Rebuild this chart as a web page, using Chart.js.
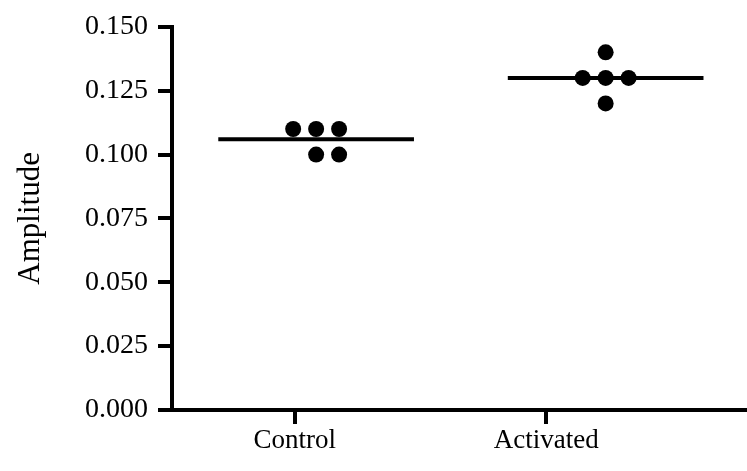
<!DOCTYPE html>
<html>
<head>
<meta charset="utf-8">
<script src="https://cdn.jsdelivr.net/npm/chart.js@4"></script>
<style>
  html, body { margin: 0; padding: 0; background: #fff; overflow: hidden; }
  #wrap { width: 754px; height: 471px; }
</style>
</head>
<body>
<div id="wrap"><canvas id="chart"></canvas></div>
<script>
// données
const categories = ['Control', 'Activated'];
const tickPositions = [1, 2];
const groupPositions = [1.085, 2.236];
const controlValues = [0.110, 0.110, 0.110, 0.100, 0.100];
const controlOffsets = [-1, 0, 1, 0, 1];
const activatedValues = [0.140, 0.130, 0.130, 0.130, 0.120];
const activatedOffsets = [0, -1, 0, 1, 0];
const means = [0.106, 0.130];
const yTicks = [0, 0.025, 0.05, 0.075, 0.1, 0.125, 0.15];

const spacing = 0.0913;   // écart entre points voisins
const halfLine = 0.389;   // demi-largeur du trait de moyenne

function toPoints(values, offsets, center) {
    return values.map((v, i) => ({ x: center + offsets[i] * spacing, y: v }));
}
function meanLine(m, center) {
    return [{ x: center - halfLine, y: m }, { x: center + halfLine, y: m }];
}

const serif = 'Liberation Serif, Times New Roman, serif';

new Chart(document.getElementById('chart'), {
    type: 'scatter',
    data: {
        datasets: [
            { type: 'line', data: meanLine(means[0], groupPositions[0]), borderColor: '#000', borderWidth: 4, pointRadius: 0 },
            { type: 'line', data: meanLine(means[1], groupPositions[1]), borderColor: '#000', borderWidth: 4, pointRadius: 0 },
            { data: toPoints(controlValues, controlOffsets, groupPositions[0]), backgroundColor: '#000', borderWidth: 0, pointRadius: 8 },
            { data: toPoints(activatedValues, activatedOffsets, groupPositions[1]), backgroundColor: '#000', borderWidth: 0, pointRadius: 8 }
        ]
    },
    options: {
        responsive: true,
        maintainAspectRatio: false,
        animation: false,
        layout: { padding: { top: 25, right: 0, left: 0, bottom: 0 } },
        plugins: { legend: { display: false }, tooltip: { enabled: false } },
        scales: {
            x: {
                type: 'linear',
                min: 0.512,
                max: 2.794,
                afterBuildTicks: s => { s.ticks = tickPositions.map(v => ({ value: v })); },
                afterFit: s => { s.height = 61; },
                border: { display: true, color: '#000', width: 4 },
                grid: { drawOnChartArea: false, drawTicks: true, tickLength: 14, lineWidth: 4, color: '#000' },
                ticks: {
                    color: '#000',
                    padding: 1,
                    font: { family: serif, size: 27 },
                    callback: v => categories[tickPositions.indexOf(v)]
                }
            },
            y: {
                min: 0,
                max: 0.15,
                afterBuildTicks: s => { s.ticks = yTicks.map(v => ({ value: v })); },
                afterFit: s => { s.width = 172; },
                border: { display: true, color: '#000', width: 4 },
                grid: { drawOnChartArea: false, drawTicks: true, tickLength: 14, lineWidth: 4, color: '#000' },
                ticks: {
                    color: '#000',
                    padding: 10,
                    font: { family: serif, size: 28 },
                    callback: v => v.toFixed(3)
                },
                title: {
                    display: true,
                    text: 'Amplitude',
                    color: '#000',
                    padding: { top: 12, bottom: 0 },
                    font: { family: serif, size: 31 }
                }
            }
        }
    }
});
</script>
</body>
</html>
